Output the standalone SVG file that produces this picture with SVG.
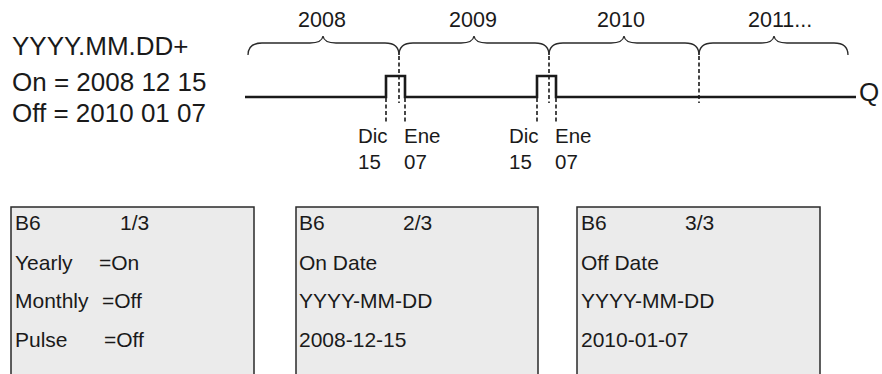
<svg xmlns="http://www.w3.org/2000/svg" width="882" height="374" viewBox="0 0 882 374">
<style>
text{font-family:"Liberation Sans",Arial,sans-serif;fill:#1a1a1a}
.big{font-size:26px}
.yr{font-size:21.5px}
.sm{font-size:20.5px}
.box{fill:#ebebeb;stroke:#2a2a2a;stroke-width:1.5}
.bt{font-size:21px}
.brace{fill:none;stroke:#2a2a2a;stroke-width:1.3}
.sig{fill:none;stroke:#1a1a1a;stroke-width:2.6}
.dash{fill:none;stroke:#1a1a1a;stroke-width:1.6;stroke-dasharray:4,2.5}
</style>
<rect width="882" height="374" fill="#fff"/>
<g id="params">
<text class="big" x="12" y="55">YYYY.MM.DD+</text>
<text class="big" x="12" y="91">On = 2008 12 15</text>
<text class="big" x="12" y="122">Off = 2010 01 07</text>
</g>
<g id="years">
<text class="yr" x="322" y="27" text-anchor="middle">2008</text>
<text class="yr" x="473" y="27" text-anchor="middle">2009</text>
<text class="yr" x="621" y="27" text-anchor="middle">2010</text>
<text class="yr" x="748" y="27">2011...</text>
<path class="brace" d="M248,55 Q248,43 262,43 L310,43 Q322,43 323,36 Q324,43 336,43 L385,43 Q399,43 399,55"/>
<path class="brace" d="M399,55 Q399,43 413,43 L461,43 Q473,43 474,36 Q475,43 487,43 L535,43 Q549,43 549,55"/>
<path class="brace" d="M549,55 Q549,43 563,43 L611,43 Q623,43 624,36 Q625,43 637,43 L685,43 Q699,43 699,55"/>
<path class="brace" d="M699,55 Q699,43 713,43 L761,43 Q773,43 774,36 Q775,43 787,43 L834,43 Q848,43 848,55"/>
</g>
<g id="connectors">
<path class="sig" d="M245,97 L386,97 L386,76 L405,76 L405,97 L537,97 L537,76 L556,76 L556,97 L856,97"/>
<line class="dash" x1="399" y1="56" x2="399" y2="103"/>
<line class="dash" x1="549" y1="56" x2="549" y2="103"/>
<line class="dash" x1="699" y1="56" x2="699" y2="103"/>
<line class="dash" x1="386" y1="98" x2="386" y2="123"/>
<line class="dash" x1="405" y1="98" x2="405" y2="123"/>
<line class="dash" x1="537" y1="98" x2="537" y2="123"/>
<line class="dash" x1="556" y1="98" x2="556" y2="123"/>
</g>
<g id="signal-labels">
<text class="big" x="859" y="101">Q</text>
<text class="sm" x="358" y="143">Dic</text>
<text class="sm" x="404" y="143">Ene</text>
<text class="sm" x="358" y="169">15</text>
<text class="sm" x="404" y="169">07</text>
<text class="sm" x="509" y="143">Dic</text>
<text class="sm" x="555" y="143">Ene</text>
<text class="sm" x="509" y="169">15</text>
<text class="sm" x="555" y="169">07</text>
</g>
<g id="screen1">
<rect class="box" x="11" y="207" width="243" height="180"/>
<text class="bt" x="15" y="230">B6</text>
<text class="bt" x="120" y="230">1/3</text>
<text class="bt" x="15" y="270">Yearly</text>
<text class="bt" x="99" y="270">=On</text>
<text class="bt" x="15" y="308">Monthly</text>
<text class="bt" x="102" y="308">=Off</text>
<text class="bt" x="15" y="347">Pulse</text>
<text class="bt" x="104" y="347">=Off</text>
</g>
<g id="screen2">
<rect class="box" x="296" y="207" width="242" height="180"/>
<text class="bt" x="299" y="230">B6</text>
<text class="bt" x="403" y="230">2/3</text>
<text class="bt" x="299" y="270">On Date</text>
<text class="bt" x="299" y="308">YYYY-MM-DD</text>
<text class="bt" x="299" y="347">2008-12-15</text>
</g>
<g id="screen3">
<rect class="box" x="577" y="207" width="243" height="180"/>
<text class="bt" x="581" y="230">B6</text>
<text class="bt" x="685" y="230">3/3</text>
<text class="bt" x="581" y="270">Off Date</text>
<text class="bt" x="581" y="308">YYYY-MM-DD</text>
<text class="bt" x="581" y="347">2010-01-07</text>
</g>
</svg>
